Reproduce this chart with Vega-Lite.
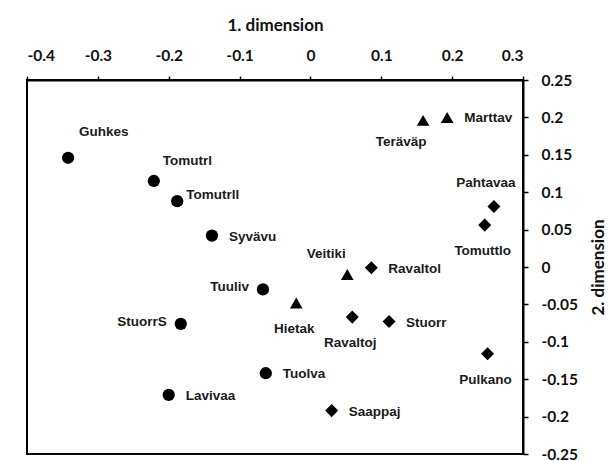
{
  "$schema": "https://vega.github.io/schema/vega-lite/v6.json",
  "width": 496,
  "height": 374,
  "autosize": {"type": "none"},
  "padding": {"left": 27, "top": 80, "right": 90, "bottom": 7},
  "background": "white",
  "config": {
    "view": {"stroke": "black", "strokeWidth": 2},
    "axis": {"grid": false}
  },
  "data": {
    "values": [
      {"name": "Guhkes", "x": -0.342, "y": 0.146, "group": "circle"},
      {"name": "Tomutrl", "x": -0.221, "y": 0.115, "group": "circle"},
      {"name": "Tomutrll", "x": -0.188, "y": 0.088, "group": "circle"},
      {"name": "Syvävu", "x": -0.139, "y": 0.042, "group": "circle"},
      {"name": "Tuuliv", "x": -0.067, "y": -0.030, "group": "circle"},
      {"name": "StuorrS", "x": -0.183, "y": -0.076, "group": "circle"},
      {"name": "Tuolva", "x": -0.063, "y": -0.142, "group": "circle"},
      {"name": "Lavivaa", "x": -0.200, "y": -0.171, "group": "circle"},
      {"name": "Hietak", "x": -0.020, "y": -0.048, "group": "triangle"},
      {"name": "Veitiki", "x": 0.052, "y": -0.010, "group": "triangle"},
      {"name": "Teräväp", "x": 0.159, "y": 0.196, "group": "triangle"},
      {"name": "Marttav", "x": 0.193, "y": 0.200, "group": "triangle"},
      {"name": "Ravaltol", "x": 0.086, "y": -0.001, "group": "diamond"},
      {"name": "Ravaltoj", "x": 0.059, "y": -0.067, "group": "diamond"},
      {"name": "Stuorr", "x": 0.111, "y": -0.073, "group": "diamond"},
      {"name": "Pulkano", "x": 0.250, "y": -0.116, "group": "diamond"},
      {"name": "Tomuttlo", "x": 0.246, "y": 0.056, "group": "diamond"},
      {"name": "Pahtavaa", "x": 0.259, "y": 0.081, "group": "diamond"},
      {"name": "Saappaj", "x": 0.030, "y": -0.192, "group": "diamond"}
    ]
  },
  "encoding": {
    "x": {
      "field": "x", "type": "quantitative",
      "scale": {"domain": [-0.4, 0.3], "nice": false, "zero": false},
      "axis": {
        "orient": "top",
        "values": [-0.4, -0.3, -0.2, -0.1, 0, 0.1, 0.2, 0.3],
        "labelExpr": "'' + datum.value",
        "domainColor": "black", "domainWidth": 2,
        "tickColor": "black", "tickSize": 4, "tickWidth": 1.5,
        "labelFont": "Lato", "labelFontWeight": "bold", "labelFontSize": 15.5, "labelColor": "#111",
        "labelPadding": 13,
        "title": "1. dimension",
        "titleFont": "Lato", "titleFontWeight": "bold", "titleFontSize": 17, "titleColor": "#111",
        "titlePadding": 14
      }
    },
    "y": {
      "field": "y", "type": "quantitative",
      "scale": {"domain": [-0.25, 0.25], "nice": false, "zero": false},
      "axis": {
        "orient": "right",
        "values": [-0.25, -0.2, -0.15, -0.1, -0.05, 0, 0.05, 0.1, 0.15, 0.2, 0.25],
        "labelExpr": "'' + datum.value",
        "domainColor": "black", "domainWidth": 2,
        "tickColor": "black", "tickSize": 5, "tickWidth": 1.5,
        "labelFont": "Lato", "labelFontWeight": "bold", "labelFontSize": 15.5, "labelColor": "#111",
        "labelPadding": 13,
        "title": "2. dimension",
        "titleAngle": 270,
        "titleBaseline": "top",
        "titleFont": "Lato", "titleFontWeight": "bold", "titleFontSize": 17, "titleColor": "#111",
        "titlePadding": 13
      }
    }
  },
  "layer": [
    {
      "mark": {"type": "point", "filled": true, "color": "black", "opacity": 1},
      "encoding": {
        "shape": {
          "field": "group", "type": "nominal",
          "scale": {"domain": ["circle", "triangle", "diamond"], "range": ["circle", "triangle-up", "diamond"]},
          "legend": null
        },
        "size": {
          "field": "group", "type": "nominal",
          "scale": {"domain": ["circle", "triangle", "diamond"], "range": [150, 170, 150]},
          "legend": null
        }
      }
    },
    {
      "transform": [{"filter": {"field": "name", "oneOf": ["Syvävu", "Tuolva", "Lavivaa", "Saappaj", "Marttav", "Ravaltol", "Stuorr"]}}],
      "mark": {"type": "text", "align": "left", "baseline": "middle", "dx": 17, "dy": 1, "font": "Liberation Sans", "fontWeight": "bold", "fontSize": 13.5, "color": "#1a1a1a"},
      "encoding": {"text": {"field": "name"}}
    },
    {
      "transform": [{"filter": {"field": "name", "oneOf": ["Tomutrll"]}}],
      "mark": {"type": "text", "align": "left", "baseline": "middle", "dx": 9, "dy": -6, "font": "Liberation Sans", "fontWeight": "bold", "fontSize": 13.5, "color": "#1a1a1a"},
      "encoding": {"text": {"field": "name"}}
    },
    {
      "transform": [{"filter": {"field": "name", "oneOf": ["Tomutrl"]}}],
      "mark": {"type": "text", "align": "left", "baseline": "middle", "dx": 9, "dy": -20, "font": "Liberation Sans", "fontWeight": "bold", "fontSize": 13.5, "color": "#1a1a1a"},
      "encoding": {"text": {"field": "name"}}
    },
    {
      "transform": [{"filter": {"field": "name", "oneOf": ["Guhkes"]}}],
      "mark": {"type": "text", "align": "left", "baseline": "middle", "dx": 11, "dy": -26, "font": "Liberation Sans", "fontWeight": "bold", "fontSize": 13.5, "color": "#1a1a1a"},
      "encoding": {"text": {"field": "name"}}
    },
    {
      "transform": [{"filter": {"field": "name", "oneOf": ["Tuuliv", "StuorrS"]}}],
      "mark": {"type": "text", "align": "right", "baseline": "middle", "dx": -14, "dy": -2, "font": "Liberation Sans", "fontWeight": "bold", "fontSize": 13.5, "color": "#1a1a1a"},
      "encoding": {"text": {"field": "name"}}
    },
    {
      "transform": [{"filter": {"field": "name", "oneOf": ["Hietak", "Ravaltoj", "Pulkano", "Tomuttlo"]}}],
      "mark": {"type": "text", "align": "center", "baseline": "middle", "dx": -2, "dy": 26, "font": "Liberation Sans", "fontWeight": "bold", "fontSize": 13.5, "color": "#1a1a1a"},
      "encoding": {"text": {"field": "name"}}
    },
    {
      "transform": [{"filter": {"field": "name", "oneOf": ["Teräväp"]}}],
      "mark": {"type": "text", "align": "center", "baseline": "middle", "dx": -22, "dy": 22, "font": "Liberation Sans", "fontWeight": "bold", "fontSize": 13.5, "color": "#1a1a1a"},
      "encoding": {"text": {"field": "name"}}
    },
    {
      "transform": [{"filter": {"field": "name", "oneOf": ["Pahtavaa"]}}],
      "mark": {"type": "text", "align": "center", "baseline": "middle", "dx": -8, "dy": -23, "font": "Liberation Sans", "fontWeight": "bold", "fontSize": 13.5, "color": "#1a1a1a"},
      "encoding": {"text": {"field": "name"}}
    },
    {
      "transform": [{"filter": {"field": "name", "oneOf": ["Veitiki"]}}],
      "mark": {"type": "text", "align": "center", "baseline": "middle", "dx": -21, "dy": -20, "font": "Liberation Sans", "fontWeight": "bold", "fontSize": 13.5, "color": "#1a1a1a"},
      "encoding": {"text": {"field": "name"}}
    }
  ]
}
